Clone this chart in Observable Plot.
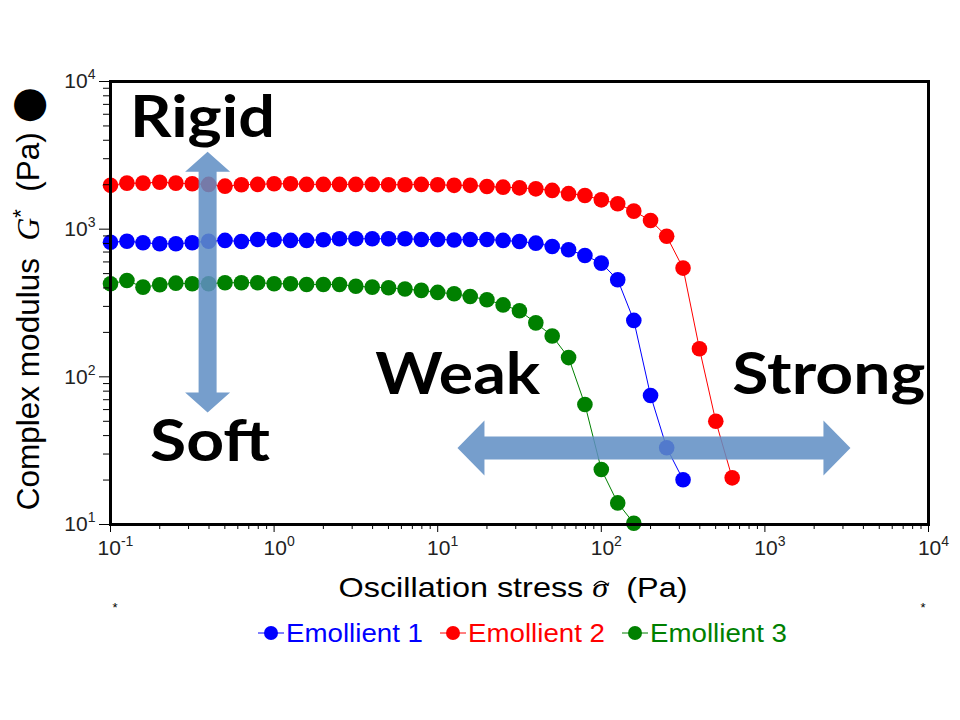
<!DOCTYPE html>
<html>
<head>
<meta charset="utf-8">
<script src="https://cdn.jsdelivr.net/npm/d3@7"></script>
<script src="https://cdn.jsdelivr.net/npm/@observablehq/plot@0.6"></script>
<style>
  html, body { margin: 0; padding: 0; background: #fff; }
  #chart { width: 960px; height: 720px; position: relative; overflow: hidden; }
  #legend { display: flex; justify-content: center; gap: 17px; margin-left: 84px; height: 36px; align-items: center; }
</style>
</head>
<body>
<div id="chart"></div>
<script>
// ---- data ----
const stress = [0.1, 0.126, 0.158, 0.2, 0.251, 0.316, 0.398, 0.501, 0.631, 0.794,
  1, 1.26, 1.58, 2, 2.51, 3.16, 3.98, 5.01, 6.31, 7.94,
  10, 12.6, 15.8, 20, 25.1, 31.6, 39.8, 50.1, 63.1, 79.4,
  100, 126, 158, 200, 251, 316, 398, 501, 631];

const seriesNames = ["Emollient 1", "Emollient 2", "Emollient 3"];
const seriesColors = ["#0000ff", "#ff0000", "#008000"];

const emollient1 = [816, 829, 809, 796, 796, 809, 829, 839, 825, 852,
  848, 839, 839, 848, 861, 861, 861, 861, 861, 852,
  852, 845, 852, 852, 839, 825, 804, 764, 725, 664,
  589, 454, 241, 74.8, 33.1, 20.1];
const emollient2 = [1980, 2050, 2050, 2080, 2050, 2030, 2010, 1955, 2000, 2010,
  2030, 2030, 2010, 2010, 2010, 2010, 2010, 2000, 2000, 2010,
  2000, 1980, 1980, 1945, 1925, 1905, 1875, 1830, 1740, 1690,
  1580, 1485, 1325, 1145, 895, 545, 155, 50, 20.7];
const emollient3 = [427, 449, 405, 420, 431, 427, 427, 434, 434, 434,
  427, 427, 422, 422, 422, 411, 405, 401, 393, 385,
  373, 365, 350, 333, 307, 280, 232, 189, 135, 65,
  23.6, 14.0, 10.2];

const xMajorTicks = [0.1, 1, 10, 100, 1000, 10000];
const yMajorTicks = [10, 100, 1000, 10000];
const minorMultipliers = [2, 3, 4, 5, 6, 7, 8, 9];

const xTitle = "Oscillation stress ";
const xSymbol = "σ";
const unitText = "(Pa)";
const yTitle = "Complex modulus";
const ySymbol = "G";

// annotation anchors in data units (left end of baseline)
const annotationTexts = ["Rigid", "Soft", "Weak", "Strong"];
const annotationX = [0.1325, 0.1756, 4.18, 637];
const annotationY = [4178, 26.7, 76.0, 76.0];

// double arrows in data units
const arrowX1 = [0.395, 13.3];
const arrowY1 = [3321, 32.7];
const arrowX2 = [0.395, 3357];
const arrowY2 = [56.8, 32.7];

// ---- build ----
const seriesValues = [emollient1, emollient2, emollient3];
const rows = seriesValues.flatMap((vals, i) =>
  vals.map((v, k) => ({stress: stress[k], modulus: v, series: seriesNames[i]})));

const decadesX = xMajorTicks.slice(0, -1);
const decadesY = yMajorTicks.slice(0, -1);
const xMinor = decadesX.flatMap(d => minorMultipliers.map(m => m * d));
const yMinor = decadesY.flatMap(d => minorMultipliers.map(m => m * d));

const expOf = v => String(Math.round(Math.log10(v)));

const annStyle = {Rigid: 145, Soft: 120, Weak: 165, Strong: 193}; // text widths (px)
const arrowStyles = [
  {shaft: 18, head: 45, headLen: 20},
  {shaft: 23, head: 55, headLen: 27}
];
const FONT = "'Liberation Sans', Arial, sans-serif";

function overlay(index, scales, values, dims) {
  const X = scales.x, Y = scales.y;
  const g = d3.create("svg:g").attr("text-anchor", "start");
  const {width, height, marginLeft, marginRight, marginTop, marginBottom} = dims;
  const left = marginLeft, right = width - marginRight, bottom = height - marginBottom;

  // arrows
  arrowX1.forEach((_, i) => {
    const x1 = X(arrowX1[i]), y1 = Y(arrowY1[i]), x2 = X(arrowX2[i]), y2 = Y(arrowY2[i]);
    const len = Math.hypot(x2 - x1, y2 - y1);
    const ang = Math.atan2(y2 - y1, x2 - x1) * 180 / Math.PI;
    const s = arrowStyles[i];
    const sw = s.shaft / 2, hw = s.head / 2, hl = s.headLen;
    const pts = [[0, 0], [hl, -hw], [hl, -sw], [len - hl, -sw], [len - hl, -hw], [len, 0],
      [len - hl, hw], [len - hl, sw], [hl, sw], [hl, hw]];
    g.append("polygon")
      .attr("points", pts.map(p => p.join(",")).join(" "))
      .attr("transform", `translate(${x1},${y1}) rotate(${ang})`)
      .attr("fill", "#5f8ec4")
      .attr("fill-opacity", 0.86);
  });

  // annotations
  annotationTexts.forEach((t, i) => {
    g.append("text")
      .attr("x", X(annotationX[i]))
      .attr("y", Y(annotationY[i]))
      .attr("text-anchor", "start")
      .attr("font-family", "Lato, 'Open Sans', sans-serif")
      .attr("font-weight", 700)
      .attr("font-size", 58)
      .attr("fill", "#000")
      .attr("textLength", annStyle[t])
      .attr("lengthAdjust", "spacingAndGlyphs")
      .text(t);
  });

  // x title (slightly stretched horizontally like the reference)
  const xg = g.append("g")
    .attr("class", "x-title")
    .attr("transform", `translate(${(left + right) / 2 - 6},${bottom + 73}) scale(1.2,1)`);
  const xt = xg.append("text")
    .attr("text-anchor", "middle")
    .attr("font-family", FONT)
    .attr("font-size", 27)
    .attr("fill", "#000");
  xt.append("tspan").text(xTitle);
  xt.append("tspan").attr("font-family", "'Liberation Serif', serif").attr("font-style", "italic").text(xSymbol);
  xt.append("tspan").text("\u00a0\u00a0" + unitText);

  // y title
  const yt = g.append("text")
    .attr("transform", `translate(39,${(marginTop + bottom) / 2 - 4}) rotate(-90)`)
    .attr("text-anchor", "middle")
    .attr("font-family", FONT)
    .attr("font-size", 31.5)
    .attr("fill", "#000");
  yt.append("tspan").text(yTitle + "\u00a0\u00a0");
  yt.append("tspan").attr("font-family", "'Liberation Serif', serif").attr("font-style", "italic").text(ySymbol);
  yt.append("tspan").attr("font-size", 22).attr("dy", -11).text("*");
  yt.append("tspan").attr("dy", 11).text("\u00a0\u00a0" + unitText + "\u00a0");
  yt.append("tspan").attr("font-family", "'DejaVu Sans', sans-serif").attr("font-size", 42).attr("dy", 2).text("●");

  // asterisks
  [left + 5, right - 5].forEach(x => {
    g.append("text").attr("x", x).attr("y", bottom + 88).attr("text-anchor", "middle")
      .attr("font-family", FONT).attr("font-size", 13).attr("fill", "#000").text("*");
  });
  return g.node();
}

const plot = Plot.plot({
  width: 960,
  height: 615,
  marginLeft: 110,
  marginRight: 32,
  marginTop: 81,
  marginBottom: 91,
  x: {type: "log", domain: [0.1, 10000]},
  y: {type: "log", domain: [10, 10000]},
  color: {domain: seriesNames, range: seriesColors},
  style: {fontFamily: FONT, fontSize: "16px", background: "white", overflow: "visible"},
  marks: [
    Plot.line(rows, {x: "stress", y: "modulus", z: "series", stroke: "series", strokeWidth: 1}),
    Plot.dot(rows, {x: "stress", y: "modulus", fill: "series", r: 7.8, stroke: null}),
    Plot.frame({stroke: "#000", strokeWidth: 3}),
    Plot.axisX({ticks: xMajorTicks, tickFormat: expOf, tickSize: 8, tickPadding: 8, fill: "#222", label: null}),
    Plot.axisX({ticks: xMinor, tickFormat: () => "", tickSize: 5, label: null}),
    Plot.axisY({ticks: yMajorTicks, tickFormat: expOf, tickSize: 11, tickPadding: 4, fill: "#222", label: null}),
    Plot.axisY({ticks: yMinor, tickFormat: () => "", tickSize: 7, label: null}),
    overlay
  ]
});

// restyle tick labels as 10 with a superscript exponent
d3.select(plot).selectAll("g[aria-label$='tick label'] text").each(function () {
  const t = d3.select(this);
  const e = t.text();
  if (!e) return;
  const isX = this.parentNode.getAttribute("aria-label").startsWith("x");
  t.text(null).attr("font-size", 21).style("font-size", "21px").attr("font-family", FONT);
  t.append("tspan").attr("dx", isX ? 5 : 0).attr("font-size", 21).style("font-size", "21px").text("10");
  t.append("tspan").attr("dy", -9).attr("font-size", 14).style("font-size", "14px").text(e);
});

const chart = document.getElementById("chart");
chart.appendChild(plot);

// hat over sigma in the x title (drawn as a stroke so it does not collide as text)
{
  const xg = d3.select(plot).select("g.x-title");
  const textNode = xg.select("text").node();
  const idx = xTitle.length;
  const box = textNode.getExtentOfChar(idx);
  const x0 = box.x + box.width * 0.1, x1 = box.x + box.width * 1.0;
  const top = box.y + box.height * 0.28;
  xg.append("path")
    .attr("d", `M${x0},${top + 5} Q${(x0 + x1) / 2},${top - 4} ${x1},${top + 5}`)
    .attr("fill", "none").attr("stroke", "#000").attr("stroke-width", 1.2);
}

// legend below the plot
const legend = d3.select(chart).append("div").attr("id", "legend");
seriesNames.forEach((name, i) => {
  const s = legend.append("svg").attr("width", 165).attr("height", 36);
  s.append("line").attr("x1", 0).attr("x2", 26).attr("y1", 18).attr("y2", 18)
    .attr("stroke", seriesColors[i]).attr("stroke-width", 1);
  s.append("circle").attr("cx", 13).attr("cy", 18).attr("r", 7).attr("fill", seriesColors[i]);
  s.append("text").attr("x", 28).attr("y", 27)
    .attr("font-family", FONT).attr("font-size", 25)
    .attr("fill", seriesColors[i])
    .attr("textLength", 137).attr("lengthAdjust", "spacingAndGlyphs")
    .text(name);
});
</script>
</body>
</html>
